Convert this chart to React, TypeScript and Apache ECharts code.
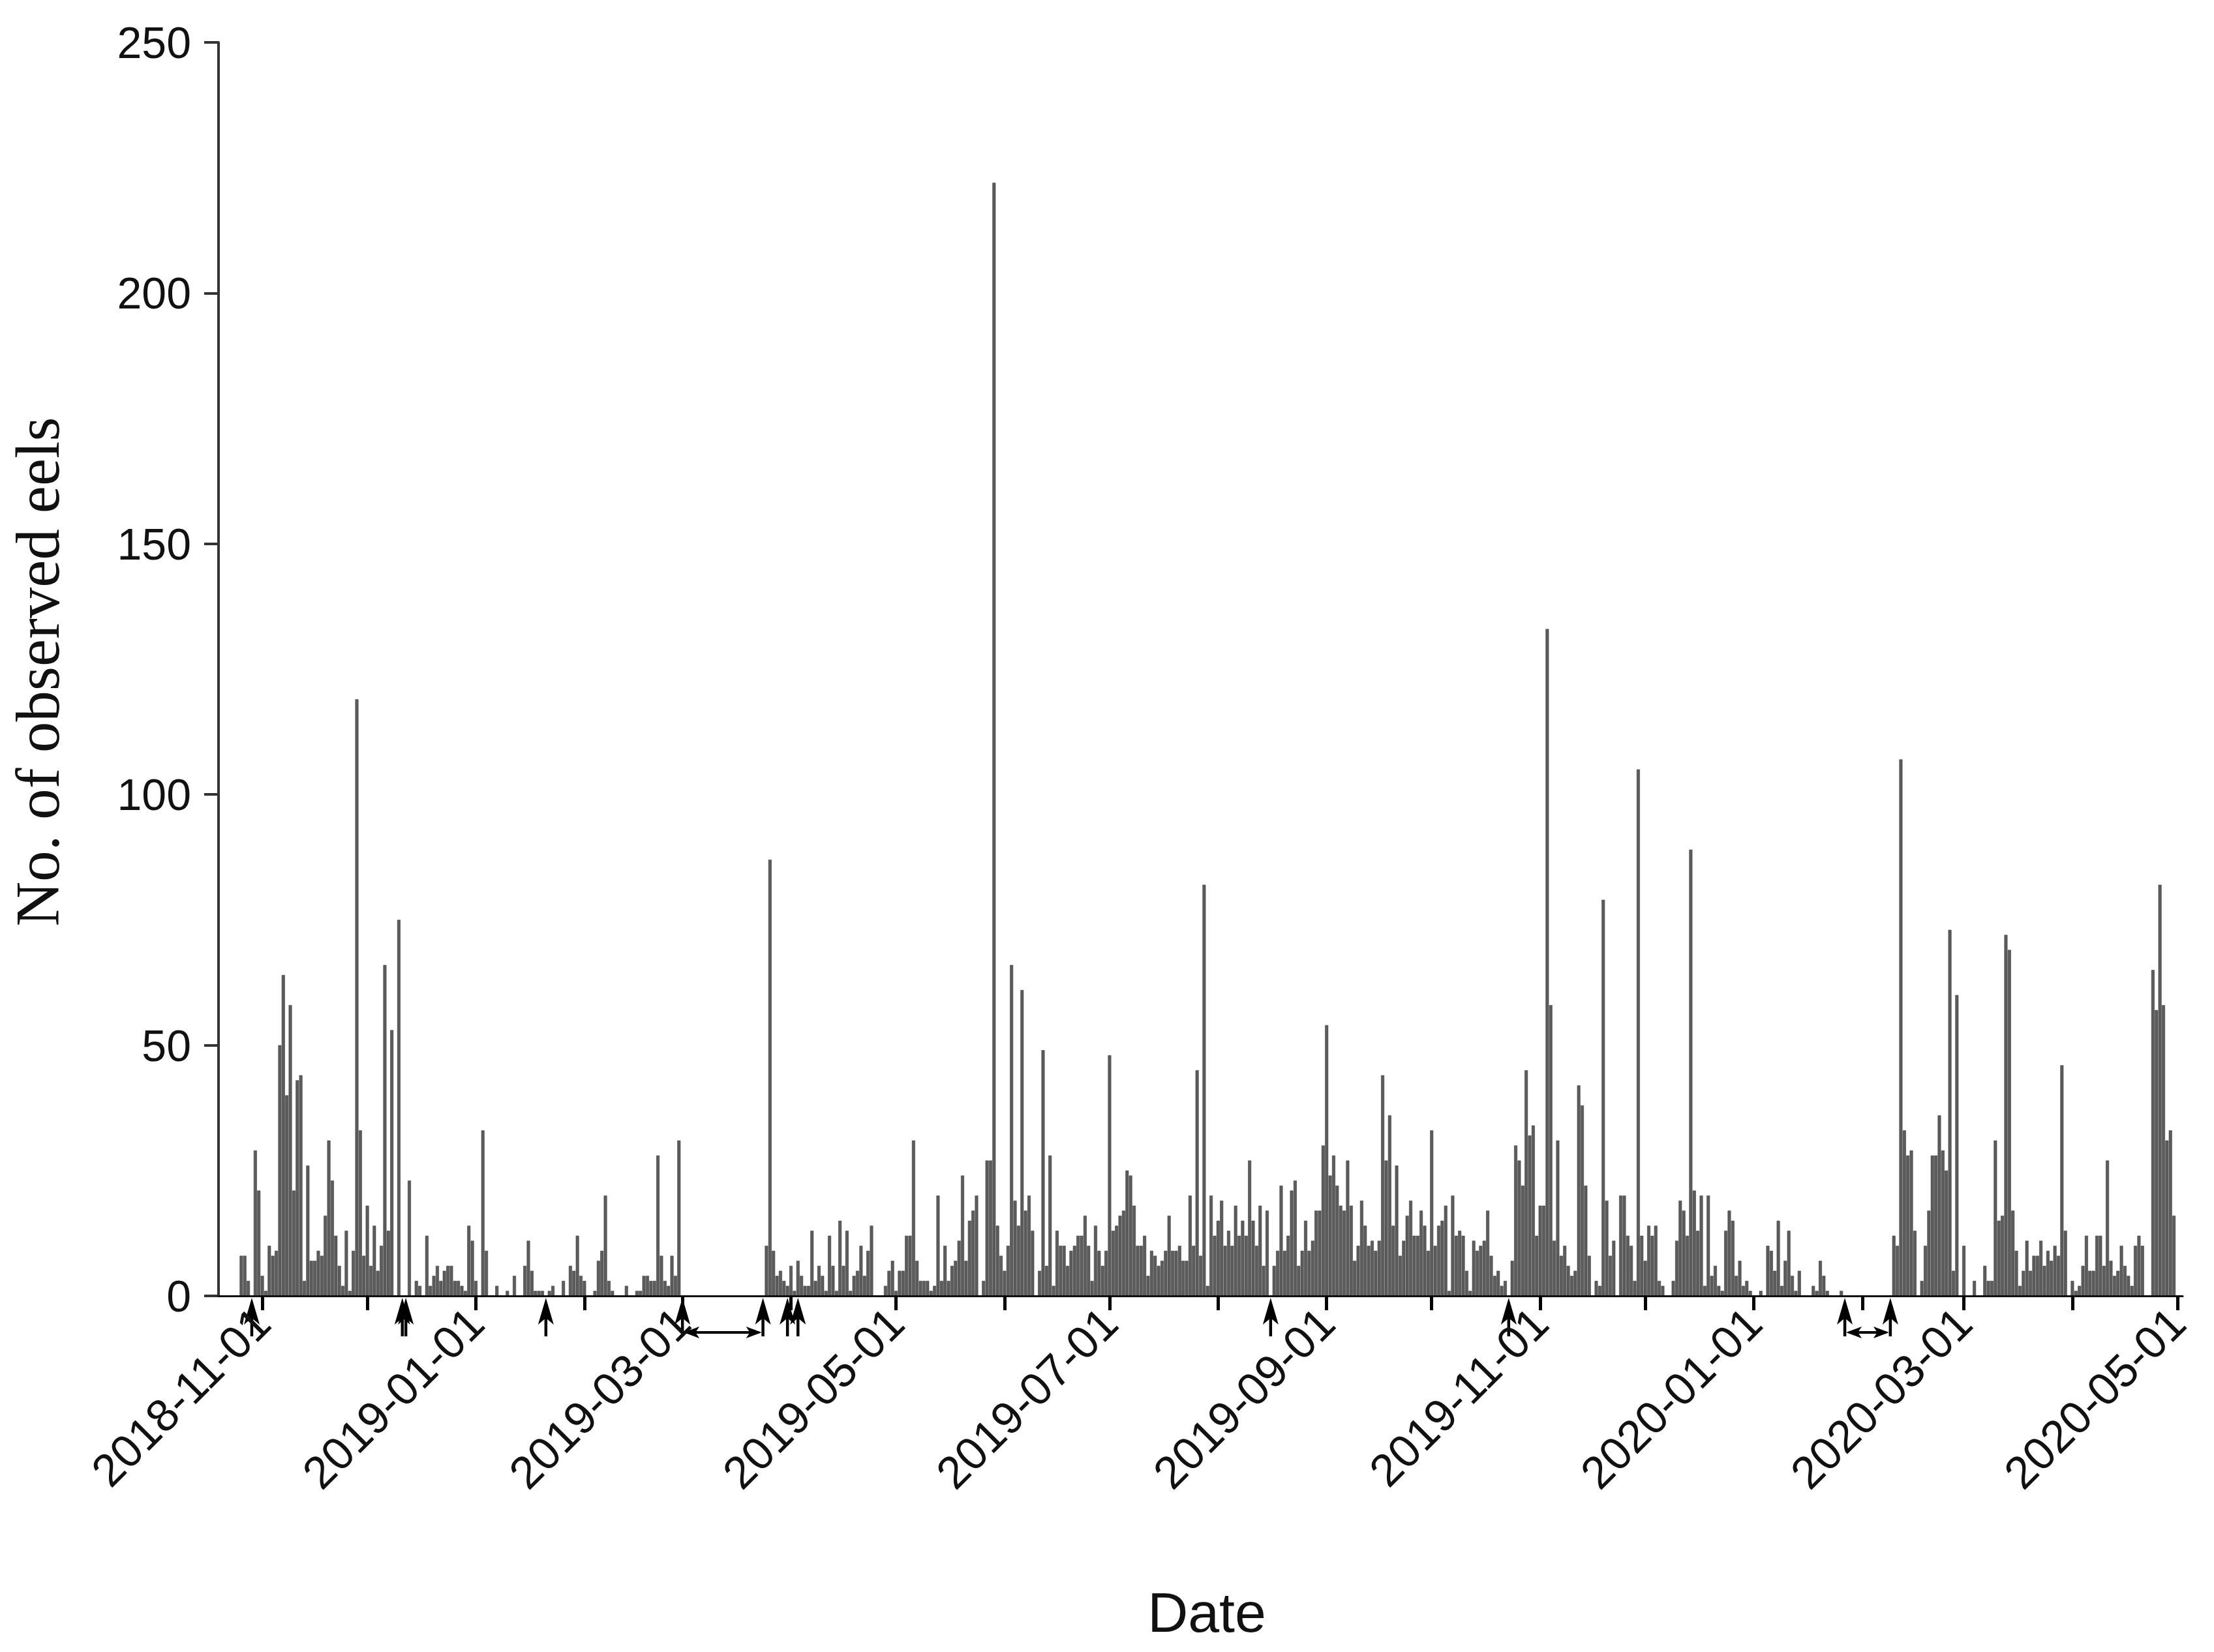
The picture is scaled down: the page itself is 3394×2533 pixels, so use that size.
import React, { useEffect, useRef } from 'react';
import * as echarts from 'echarts';

// Axis category range (daily) and first observed day
const axisStart = '2018-10-20';
const axisEnd = '2020-05-02';
const obsStart = '2018-10-26';

// Daily counts of observed eels
const obs2018 = [
  8, 8, 3, 0, 29, 21,
  4, 1, 10, 8, 9, 50, 64, 40, 58, 21,
  43, 44, 3, 26, 7, 7, 9, 8, 16, 31,
  23, 12, 6, 2, 13, 1, 9, 119, 33, 8,
  18, 6, 14, 5, 10, 66, 13, 53, 0, 75,
  0, 0, 23, 0, 3, 2, 0, 12, 2, 4,
  6, 3, 5, 6, 6, 3, 3, 2, 1, 14,
  11,
];
const obs2019JanApr = [
  3, 0, 33, 9, 0, 0, 2, 0, 0, 1,
  0, 4, 0, 0, 6, 11, 5, 1, 1, 1,
  0, 1, 2, 0, 0, 3, 0, 6, 5, 12,
  4, 3, 0, 0, 1, 7, 9, 20, 3, 1,
  0, 0, 0, 2, 0, 0, 1, 1, 4, 4,
  3, 3, 28, 8, 3, 2, 8, 4, 31, 0,
  0, 0, 0, 0, 0, 0, 0, 0, 0, 0,
  0, 0, 0, 0, 0, 0, 0, 0, 0, 0,
  0, 0, 0, 10, 87, 9, 4, 5, 3, 2,
  6, 1, 7, 4, 2, 2, 13, 3, 6, 4,
  1, 12, 6, 1, 15, 6, 13, 1, 4, 5,
  10, 4, 9, 14, 0, 0, 0, 2, 5, 7,
];
const obs2019MayAug = [
  1, 5, 5, 12, 12, 31, 7, 3, 3, 3,
  1, 2, 20, 3, 10, 3, 6, 7, 11, 24,
  7, 15, 17, 20, 0, 3, 27, 27, 222, 14,
  8, 5, 10, 66, 19, 14, 61, 17, 20, 13,
  0, 5, 49, 6, 28, 2, 13, 10, 10, 6,
  9, 10, 12, 12, 16, 10, 3, 14, 9, 6,
  9, 48, 13, 14, 16, 17, 25, 24, 18, 10,
  10, 12, 4, 9, 8, 6, 7, 9, 16, 9,
  9, 10, 7, 7, 20, 10, 45, 8, 82, 2,
  20, 12, 15, 19, 10, 13, 10, 18, 12, 15,
  12, 27, 15, 10, 18, 6, 17, 0, 6, 9,
  22, 9, 12, 21, 23, 6, 9, 15, 9, 11,
  17, 17, 30,
];
const obs2019SepDec = [
  54, 24, 28, 22, 18, 17, 27, 18, 7, 10,
  19, 14, 10, 11, 9, 11, 44, 27, 36, 14,
  26, 8, 11, 16, 19, 12, 12, 17, 14, 9,
  33, 10, 14, 15, 18, 1, 20, 12, 13, 12,
  5, 1, 11, 9, 10, 11, 17, 8, 4, 5,
  2, 3, 0, 7, 30, 27, 22, 45, 32, 34,
  12, 18, 18, 133, 58, 11, 31, 8, 10, 6,
  4, 5, 42, 38, 22, 8, 0, 3, 2, 79,
  19, 8, 11, 0, 20, 20, 12, 10, 3, 105,
  12, 7, 14, 12, 14, 3, 2, 0, 0, 3,
  11, 19, 17, 12, 89, 21, 13, 20, 2, 20,
  4, 6, 2, 1, 13, 17, 15, 4, 7, 2,
  3, 1,
];
const obs2020JanApr = [
  0, 0, 1, 0, 10, 9, 5, 15, 2, 7,
  13, 4, 1, 5, 0, 0, 0, 2, 1, 7,
  4, 1, 0, 0, 0, 1, 0, 0, 0, 0,
  0, 0, 0, 0, 0, 0, 0, 0, 0, 0,
  12, 10, 107, 33, 28, 29, 13, 0, 3, 10,
  17, 28, 28, 36, 29, 25, 73, 5, 60, 0,
  10, 0, 0, 3, 0, 0, 6, 3, 3, 31,
  15, 16, 72, 69, 17, 9, 2, 5, 11, 5,
  8, 8, 11, 6, 9, 7, 10, 8, 46, 13,
  0, 3, 1, 2, 6, 12, 5, 5, 12, 12,
  6, 27, 7, 4, 5, 10, 6, 4, 2, 10,
  12, 10, 0, 0, 65, 57, 82, 58, 31, 33, 16,
];

// Tick labels shown on the date axis
const labelDates = [
  '2018-11-01', '2019-01-01', '2019-03-01', '2019-05-01', '2019-07-01',
  '2019-09-01', '2019-11-01', '2020-01-01', '2020-03-01', '2020-05-01',
];

// Event arrows under the axis and interrupted periods (double arrows)
const eventDates = [
  '2018-10-29', '2018-12-11', '2018-12-12', '2019-01-21', '2019-03-01',
  '2019-03-24', '2019-03-31', '2019-04-03', '2019-08-16', '2019-10-23',
  '2020-01-27', '2020-02-09',
];
const gapRanges: [string, string][] = [
  ['2019-03-01', '2019-03-24'],
  ['2020-01-27', '2020-02-09'],
];

function dayList(a: string, b: string): string[] {
  const out: string[] = [];
  const [ay, am, ad] = a.split('-').map(Number);
  const [by, bm, bd] = b.split('-').map(Number);
  let t = Date.UTC(ay, am - 1, ad);
  const end = Date.UTC(by, bm - 1, bd);
  while (t <= end) {
    out.push(new Date(t).toISOString().slice(0, 10));
    t += 86400000;
  }
  return out;
}

export default function App() {
  const ref = useRef<HTMLDivElement>(null);
  useEffect(() => {
    if (!ref.current) return;
    const chart = echarts.init(ref.current, null, { renderer: 'svg' });
    const categories = dayList(axisStart, axisEnd);
    const values = [
      ...obs2018, ...obs2019JanApr, ...obs2019MayAug, ...obs2019SepDec, ...obs2020JanApr,
    ];
    const startIdx = categories.indexOf(obsStart);
    const data = categories.map((c, i) => {
      const k = i - startIdx;
      return k >= 0 && k < values.length ? values[k] : null;
    });

    chart.setOption({
      animation: false,
      backgroundColor: '#ffffff',
      grid: { left: 335, right: 48, top: 65, bottom: 546, containLabel: false },
      xAxis: {
        type: 'category',
        data: categories,
        boundaryGap: true,
        z: 3,
        axisLine: { show: true, onZero: true, lineStyle: { color: '#111', width: 3 } },
        axisTick: {
          show: true,
          alignWithLabel: true,
          interval: (_i: number, v: string) => v.endsWith('-01'),
          length: 22,
          lineStyle: { color: '#000', width: 5 },
        },
        axisLabel: {
          interval: (_i: number, v: string) => labelDates.includes(v),
          rotate: 45,
          fontSize: 70,
          fontFamily: 'Liberation Sans',
          color: '#111',
          margin: 30,
        },
        splitLine: { show: false },
      },
      yAxis: {
        type: 'value',
        min: 0,
        max: 250,
        interval: 50,
        axisLine: { show: true, lineStyle: { color: '#333', width: 4 } },
        axisTick: { show: true, length: 22, lineStyle: { color: '#333', width: 4 } },
        axisLabel: {
          fontSize: 68,
          fontFamily: 'Liberation Sans',
          color: '#111',
          margin: 42,
        },
        splitLine: { show: false },
      },
      series: [
        {
          type: 'bar',
          data,
          barWidth: '92%',
          itemStyle: { color: '#5c5c5c', borderColor: '#3a3a3a', borderWidth: 0.6 },
        },
      ],
    });

    const y0 = chart.convertToPixel({ yAxisIndex: 0 }, 0) as number;
    const px = (d: string) => chart.convertToPixel({ xAxisIndex: 0 }, d) as number;
    const black = '#000';
    const graphics: any[] = [
      {
        type: 'text',
        x: 58,
        y: 1030,
        rotation: Math.PI / 2,
        style: {
          text: 'No. of observed eels',
          fontSize: 95,
          fontFamily: 'Liberation Serif',
          fill: '#111',
          textAlign: 'center',
          textVerticalAlign: 'middle',
        },
      },
      {
        type: 'text',
        x: 1850,
        y: 2472,
        style: {
          text: 'Date',
          fontSize: 86,
          fontFamily: 'Liberation Sans',
          fill: '#111',
          textAlign: 'center',
          textVerticalAlign: 'middle',
        },
      },
    ];
    eventDates.forEach((d) => {
      const x = px(d);
      graphics.push({
        type: 'line',
        shape: { x1: x, y1: y0 + 26, x2: x, y2: y0 + 62 },
        style: { stroke: black, lineWidth: 4.5 },
      });
      graphics.push({
        type: 'polygon',
        shape: { points: [[x, y0 + 3], [x - 12, y0 + 44], [x, y0 + 34], [x + 12, y0 + 44]] },
        style: { fill: black },
      });
    });
    gapRanges.forEach(([a, b]) => {
      const x1 = px(a);
      const x2 = px(b);
      const y = y0 + 56;
      graphics.push({
        type: 'line',
        shape: { x1: x1 + 6, y1: y, x2: x2 - 6, y2: y },
        style: { stroke: black, lineWidth: 4 },
      });
      graphics.push({
        type: 'polygon',
        shape: { points: [[x1 + 2, y], [x1 + 26, y - 9], [x1 + 20, y], [x1 + 26, y + 9]] },
        style: { fill: black },
      });
      graphics.push({
        type: 'polygon',
        shape: { points: [[x2 - 2, y], [x2 - 26, y - 9], [x2 - 20, y], [x2 - 26, y + 9]] },
        style: { fill: black },
      });
    });
    chart.setOption({ graphic: graphics });

    return () => chart.dispose();
  }, []);
  return (
    <div
      ref={ref}
      style={{ position: 'fixed', left: 0, top: 0, width: '3394px', height: '2533px', background: '#fff' }}
    />
  );
}
